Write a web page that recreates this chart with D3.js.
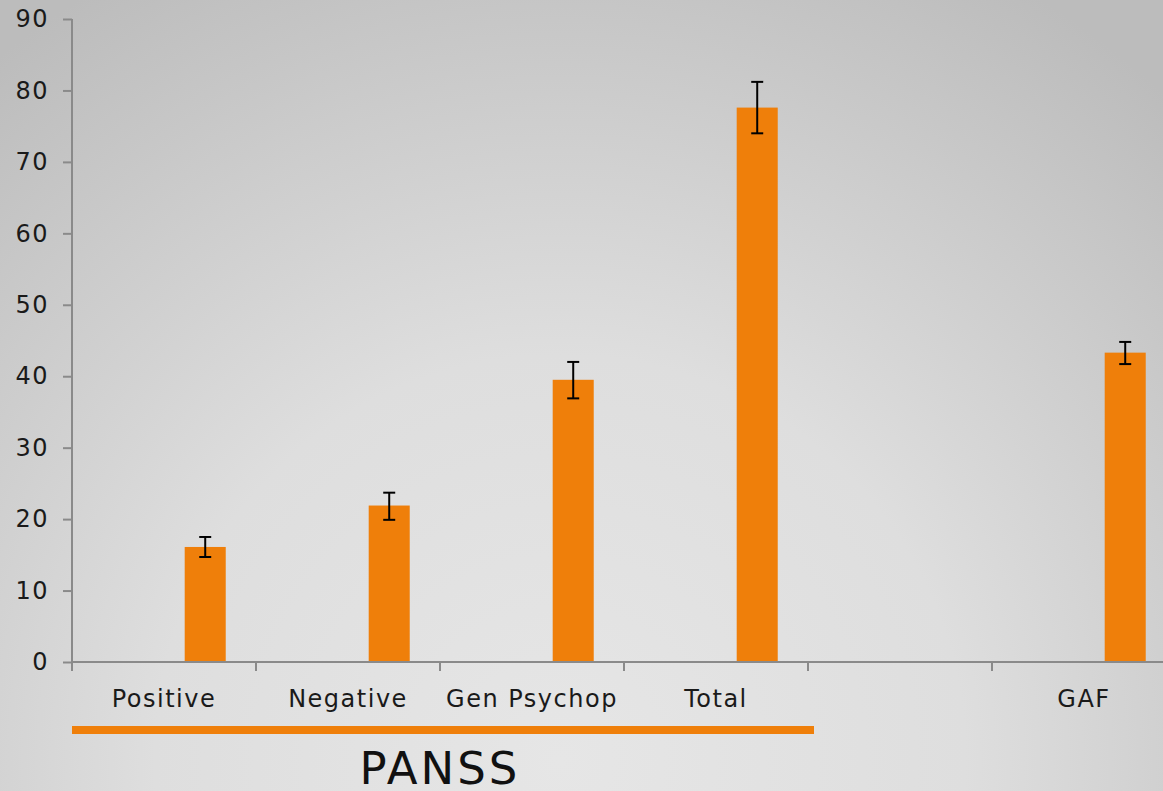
<!DOCTYPE html>
<html><head><meta charset="utf-8">
<script src="https://cdn.jsdelivr.net/npm/d3@7"></script>
<style>
html,body{margin:0;padding:0;overflow:hidden;}
svg{display:block;}
</style>
</head><body>
<svg id="c" width="1163" height="791"></svg>
<script>
const categories = ["Positive","Negative","Gen Psychop","Total","","GAF"];
const means      = [16.1, 21.9, 39.5, 77.6, null, 43.3];
const errLow     = [14.7, 19.9, 36.9, 74.0, null, 41.7];
const errHigh    = [17.5, 23.7, 42.0, 81.2, null, 44.8];
const yTicks     = [0,10,20,30,40,50,60,70,80,90];
const groupLabel = "PANSS";
const groupCats  = ["Positive","Negative","Gen Psychop","Total"];

const W=1163,H=791;
const svg=d3.select("#c");
const defs=svg.append("defs");
const rg=defs.append("radialGradient").attr("id","bg").attr("gradientUnits","userSpaceOnUse")
  .attr("cx",560).attr("cy",760).attr("r",900);
rg.append("stop").attr("offset","0").attr("stop-color","#e6e6e6");
rg.append("stop").attr("offset","0.45").attr("stop-color","#dedede");
rg.append("stop").attr("offset","1").attr("stop-color","#bcbcbc");
svg.append("rect").attr("width",W).attr("height",H).attr("fill","url(#bg)");

const x=d3.scaleBand().domain(categories).range([72,1176]).padding(0);
const y=d3.scaleLinear().domain([0,90]).range([662,19]);
const bw=x.bandwidth();
const barOff=bw*0.6125, barW=bw*0.223;
const orange="#ef7f0a";

// bars
const data=categories.map((c,i)=>({c,v:means[i],lo:errLow[i],hi:errHigh[i]})).filter(d=>d.v!=null);
svg.append("g").selectAll("rect").data(data).join("rect")
  .attr("x",d=>x(d.c)+barOff).attr("width",barW)
  .attr("y",d=>y(d.v)).attr("height",d=>y(0)-y(d.v)).attr("fill",orange);

// axes
const axisColor="#8a8a8a";
const yAxis=svg.append("g").attr("transform","translate(72,0)")
  .call(d3.axisLeft(y).tickValues(yTicks).tickSize(9).tickPadding(14));
yAxis.select(".domain").attr("stroke",axisColor).attr("stroke-width",2).attr("d","M0,"+y(90)+"V"+y(0));
yAxis.selectAll(".tick line").attr("stroke",axisColor).attr("stroke-width",2);
yAxis.selectAll(".tick text").attr("fill","#1a1a1a").attr("font-family","'DejaVu Sans',sans-serif")
  .attr("font-size",24).attr("letter-spacing","1.5px");

const xAxis=svg.append("g").attr("transform","translate(0,662)")
  .call(d3.axisBottom(x).tickSize(0).tickPadding(0));
xAxis.select(".domain").attr("stroke",axisColor).attr("stroke-width",2).attr("d","M71,0H1163");
xAxis.selectAll(".tick text").attr("fill","#1a1a1a").attr("font-family","'DejaVu Sans',sans-serif")
  .attr("font-size",24).attr("letter-spacing","1.5px").attr("dy",0).attr("y",45);
// boundary tick marks
const bounds=categories.map(c=>x(c));
svg.append("g").selectAll("line").data(bounds).join("line")
  .attr("x1",d=>d).attr("x2",d=>d).attr("y1",662).attr("y2",671)
  .attr("stroke",axisColor).attr("stroke-width",2);

// error bars
const eg=svg.append("g").attr("stroke","#000").attr("stroke-width",2);
data.forEach(d=>{
  const cx=x(d.c)+barOff+barW/2;
  eg.append("line").attr("x1",cx).attr("x2",cx).attr("y1",y(d.hi)).attr("y2",y(d.lo));
  eg.append("line").attr("x1",cx-6).attr("x2",cx+6).attr("y1",y(d.hi)).attr("y2",y(d.hi));
  eg.append("line").attr("x1",cx-6).attr("x2",cx+6).attr("y1",y(d.lo)).attr("y2",y(d.lo));
});

// group underline + label
const gx0=x(groupCats[0]);
const gx1=x(groupCats[groupCats.length-1])+bw+6;
svg.append("rect").attr("x",gx0).attr("y",726).attr("width",gx1-gx0).attr("height",8).attr("fill",orange);
svg.append("text").attr("x",(gx0+gx1)/2-3).attr("y",784).attr("text-anchor","middle")
  .attr("font-family","'DejaVu Sans',sans-serif").attr("font-size",45).attr("letter-spacing","3px")
  .attr("fill","#111").text(groupLabel);
</script>
</body></html>
